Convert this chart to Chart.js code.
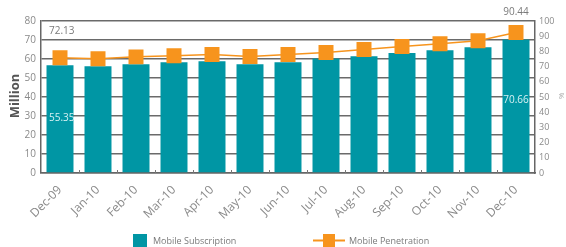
<!DOCTYPE html>
<html>
<head>
<meta charset="utf-8">
<script src="https://cdn.jsdelivr.net/npm/chart.js@4/dist/chart.umd.min.js"></script>
<style>
html,body{margin:0;padding:0;background:#fff;}
#wrap{width:566px;height:247px;position:relative;}
</style>
</head>
<body>
<div id="wrap"><canvas id="c" width="566" height="247"></canvas></div>
<script>
const categories = ['Dec-09','Jan-10','Feb-10','Mar-10','Apr-10','May-10','Jun-10','Jul-10','Aug-10','Sep-10','Oct-10','Nov-10','Dec-10'];
const subscription = [56.7, 56.2, 57.2, 58.3, 58.8, 57.2, 58.3, 60.2, 61.4, 63.2, 64.6, 66.2, 70.2];
const penetration = [75.8, 75.2, 76.4, 77.2, 77.9, 76.6, 77.9, 79.2, 81.2, 83.2, 85.1, 87.0, 92.4];
const leftTicks = [0,10,20,30,40,50,60,70,80];
const rightTicks = [0,10,20,30,40,50,60,70,80,90,100];
const annotations = ['72.13','55.35','70.66','90.44'];
const seriesNames = ['Mobile Subscription','Mobile Penetration'];

const TEAL = '#0096a4';
const ORANGE = '#f7941d';
const GREY = '#8a8a8a';
const FONT = "'Open Sans', 'DejaVu Sans', sans-serif";

const extras = {
  id: 'extras',
  afterDraw(chart) {
    const ctx = chart.ctx;
    const ca = chart.chartArea;
    const x = chart.scales.x;
    ctx.save();
    ctx.strokeStyle = '#777';
    ctx.lineWidth = 1;
    for (let i = 1; i < categories.length; i++) {
      const px = Math.round((x.getPixelForValue(i - 1) + x.getPixelForValue(i)) / 2) + 0.5;
      ctx.beginPath(); ctx.moveTo(px, ca.bottom); ctx.lineTo(px, ca.bottom - 3); ctx.stroke();
    }
    ctx.font = '10px ' + FONT;
    ctx.textBaseline = 'middle';
    const x0 = x.getPixelForValue(0);
    const xN = x.getPixelForValue(categories.length - 1);
    ctx.fillStyle = '#7a7a7a';
    ctx.textAlign = 'left';
    ctx.fillText(annotations[0], x0 - 11, ca.top + 10);
    ctx.textAlign = 'center';
    ctx.fillText(annotations[3], xN, ca.top - 9);
    ctx.fillStyle = '#d6f1f3';
    ctx.textAlign = 'left';
    ctx.fillText(annotations[1], x0 - 11, 118);
    ctx.textAlign = 'center';
    ctx.fillText(annotations[2], xN, 100);
    ctx.fillStyle = '#555';
    ctx.font = 'bold 13px ' + FONT;
    ctx.save();
    ctx.translate(15, 96); ctx.rotate(-Math.PI / 2);
    ctx.textAlign = 'center'; ctx.fillText('Million', 0, 0);
    ctx.restore();
    ctx.fillStyle = '#aaa';
    ctx.font = '8px ' + FONT;
    ctx.save();
    ctx.translate(562, 96); ctx.rotate(-Math.PI / 2);
    ctx.textAlign = 'center'; ctx.fillText('%', 0, 0);
    ctx.restore();
    ctx.fillStyle = TEAL;
    ctx.fillRect(133, 234, 14, 14);
    ctx.fillStyle = '#7a7a7a';
    ctx.font = '9px ' + FONT;
    ctx.textAlign = 'left';
    ctx.fillText(seriesNames[0], 153, 241.5);
    ctx.strokeStyle = ORANGE; ctx.lineWidth = 2;
    ctx.beginPath(); ctx.moveTo(313, 240.5); ctx.lineTo(345, 240.5); ctx.stroke();
    ctx.fillStyle = ORANGE;
    ctx.fillRect(323, 234, 12, 13);
    ctx.fillStyle = '#7a7a7a';
    ctx.fillText(seriesNames[1], 349, 241.5);
    ctx.restore();
  }
};

new Chart(document.getElementById('c'), {
  data: {
    labels: categories,
    datasets: [
      {
        type: 'line', label: seriesNames[1], data: penetration, yAxisID: 'y1',
        borderColor: ORANGE, backgroundColor: ORANGE, borderWidth: 1.5,
        pointStyle: 'rect', pointRadius: 10.6, pointHoverRadius: 10.6,
        pointBorderWidth: 0, tension: 0, order: 0
      },
      {
        type: 'bar', label: seriesNames[0], data: subscription, yAxisID: 'y',
        backgroundColor: TEAL, borderWidth: 0,
        categoryPercentage: 1, barPercentage: 0.71, order: 1
      }
    ]
  },
  options: {
    responsive: false,
    animation: false,
    layout: { padding: { top: 21, left: 0, right: 0, bottom: 0 } },
    plugins: { legend: { display: false }, tooltip: { enabled: false } },
    scales: {
      x: {
        offset: true,
        grid: { display: false },
        border: { color: '#666', width: 1.5 },
        ticks: { color: GREY, font: { size: 12, family: FONT }, minRotation: 45, maxRotation: 45, padding: 2, autoSkip: false },
        afterFit(s) { s.height = 74; }
      },
      y: {
        position: 'left', min: 0, max: 80,
        afterBuildTicks(s) { s.ticks = leftTicks.map(v => ({ value: v })); },
        grid: { color: '#6a6a6a', lineWidth: 1.5, drawTicks: false },
        border: { color: '#666', width: 1.5 },
        ticks: { color: GREY, font: { size: 10, family: FONT }, padding: 5, autoSkip: false },
        afterFit(s) { s.width = 41; }
      },
      y1: {
        position: 'right', min: 0, max: 100,
        afterBuildTicks(s) { s.ticks = rightTicks.map(v => ({ value: v })); },
        grid: { display: false, drawTicks: false },
        border: { color: '#666', width: 1.5 },
        ticks: { color: GREY, font: { size: 9, family: FONT }, padding: 4, autoSkip: false },
        afterFit(s) { s.width = 31; }
      }
    }
  },
  plugins: [extras]
});
</script>
</body>
</html>
